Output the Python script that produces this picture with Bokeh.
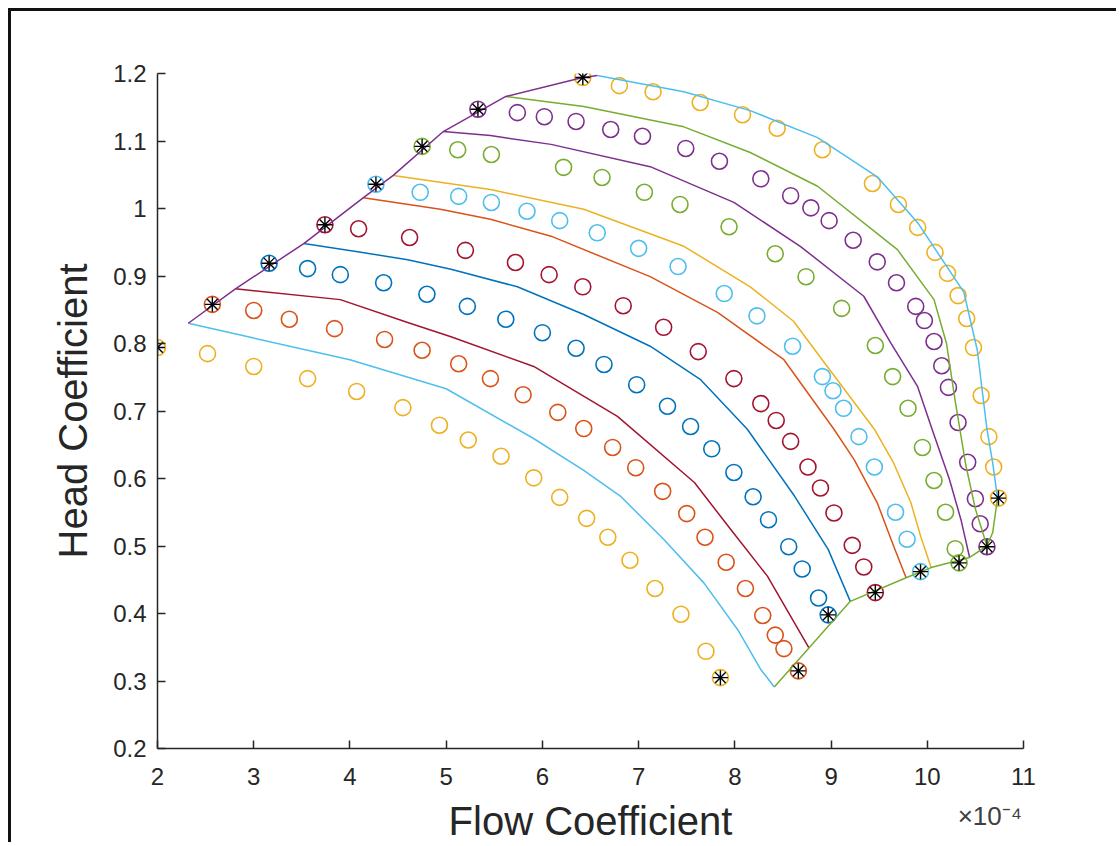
from bokeh.plotting import figure
from bokeh.models import Range1d, FixedTicker, LinearAxis
from bokeh.embed import file_html
from bokeh.resources import INLINE

# ---------------- data (x in units of 1e-4) ----------------
# measured points (circles), bottom curve to top curve
m1_x = [2.00, 2.52, 3.00, 3.56, 4.07, 4.55, 4.93, 5.23, 5.57, 5.91, 6.18, 6.46, 6.68, 6.91, 7.17, 7.44, 7.70, 7.85]
m1_y = [0.794, 0.785, 0.766, 0.748, 0.729, 0.705, 0.679, 0.657, 0.633, 0.601, 0.572, 0.541, 0.513, 0.479, 0.437, 0.399, 0.344, 0.305]
m2_x = [2.57, 3.00, 3.37, 3.84, 4.36, 4.75, 5.13, 5.46, 5.80, 6.16, 6.43, 6.73, 6.97, 7.25, 7.50, 7.69, 7.91, 8.11, 8.29, 8.42, 8.51, 8.66]
m2_y = [0.858, 0.849, 0.836, 0.822, 0.806, 0.790, 0.770, 0.748, 0.724, 0.698, 0.674, 0.646, 0.616, 0.581, 0.548, 0.513, 0.476, 0.437, 0.397, 0.368, 0.348, 0.315]
m3_x = [3.16, 3.56, 3.90, 4.35, 4.80, 5.22, 5.62, 6.00, 6.35, 6.64, 6.98, 7.30, 7.54, 7.76, 7.99, 8.19, 8.35, 8.56, 8.70, 8.87, 8.97]
m3_y = [0.919, 0.911, 0.902, 0.890, 0.873, 0.855, 0.836, 0.816, 0.793, 0.769, 0.739, 0.707, 0.677, 0.644, 0.609, 0.573, 0.539, 0.499, 0.466, 0.423, 0.398]
m4_x = [3.74, 4.09, 4.62, 5.20, 5.72, 6.07, 6.42, 6.84, 7.26, 7.62, 7.99, 8.27, 8.43, 8.58, 8.76, 8.89, 9.03, 9.22, 9.34, 9.46]
m4_y = [0.976, 0.970, 0.957, 0.938, 0.920, 0.902, 0.884, 0.856, 0.824, 0.788, 0.748, 0.711, 0.686, 0.655, 0.617, 0.586, 0.549, 0.501, 0.469, 0.431]
m5_x = [4.27, 4.73, 5.13, 5.47, 5.84, 6.18, 6.57, 7.00, 7.41, 7.89, 8.23, 8.60, 8.91, 9.02, 9.13, 9.29, 9.45, 9.67, 9.79, 9.93]
m5_y = [1.036, 1.024, 1.018, 1.009, 0.996, 0.982, 0.964, 0.941, 0.914, 0.874, 0.841, 0.796, 0.751, 0.730, 0.704, 0.662, 0.617, 0.550, 0.510, 0.462]
m6_x = [4.75, 5.12, 5.47, 6.22, 6.62, 7.06, 7.43, 7.94, 8.42, 8.74, 9.11, 9.46, 9.64, 9.80, 9.95, 10.07, 10.19, 10.29, 10.33]
m6_y = [1.092, 1.087, 1.080, 1.061, 1.046, 1.024, 1.006, 0.973, 0.933, 0.899, 0.852, 0.797, 0.751, 0.704, 0.646, 0.597, 0.550, 0.496, 0.475]
m7_x = [5.33, 5.74, 6.02, 6.35, 6.71, 7.04, 7.49, 7.84, 8.27, 8.58, 8.79, 8.98, 9.23, 9.48, 9.68, 9.88, 9.97, 10.07, 10.15, 10.22, 10.32, 10.42, 10.50, 10.55, 10.62]
m7_y = [1.147, 1.142, 1.136, 1.129, 1.117, 1.107, 1.089, 1.070, 1.044, 1.019, 1.001, 0.982, 0.953, 0.921, 0.890, 0.855, 0.834, 0.803, 0.767, 0.735, 0.683, 0.624, 0.570, 0.533, 0.499]
m8_x = [6.42, 6.80, 7.15, 7.64, 8.08, 8.44, 8.91, 9.43, 9.70, 9.90, 10.08, 10.21, 10.32, 10.41, 10.48, 10.56, 10.64, 10.69, 10.74]
m8_y = [1.194, 1.182, 1.173, 1.157, 1.139, 1.119, 1.087, 1.037, 1.006, 0.972, 0.935, 0.904, 0.871, 0.837, 0.794, 0.723, 0.662, 0.617, 0.571]

# predicted curves (lines), bottom to top
p1_x = [2.32, 3.00, 4.00, 5.00, 5.90, 6.43, 6.81, 7.26, 7.68, 8.03, 8.27, 8.41]
p1_y = [0.830, 0.808, 0.776, 0.733, 0.660, 0.612, 0.574, 0.510, 0.445, 0.376, 0.317, 0.291]
p2_x = [2.81, 3.90, 4.60, 5.05, 5.91, 6.78, 7.58, 7.96, 8.34, 8.77]
p2_y = [0.881, 0.865, 0.831, 0.810, 0.766, 0.692, 0.594, 0.524, 0.455, 0.349]
p3_x = [3.52, 4.08, 4.60, 5.05, 5.74, 6.43, 7.12, 7.64, 8.13, 8.62, 8.97, 9.20]
p3_y = [0.948, 0.936, 0.924, 0.910, 0.884, 0.843, 0.796, 0.747, 0.673, 0.574, 0.495, 0.418]
p4_x = [4.14, 4.94, 5.46, 6.09, 7.12, 7.82, 8.51, 9.03, 9.24, 9.48, 9.65, 9.78]
p4_y = [1.016, 0.999, 0.984, 0.959, 0.899, 0.846, 0.776, 0.673, 0.628, 0.564, 0.500, 0.453]
p5_x = [4.45, 5.46, 6.43, 7.47, 8.16, 8.61, 8.96, 9.45, 9.65, 9.83, 9.93, 10.04]
p5_y = [1.049, 1.028, 0.999, 0.944, 0.884, 0.833, 0.766, 0.673, 0.623, 0.564, 0.515, 0.468]
p6_x = [4.97, 5.46, 6.09, 7.12, 7.99, 8.68, 9.34, 9.62, 9.90, 10.05, 10.23, 10.35, 10.44]
p6_y = [1.114, 1.108, 1.095, 1.062, 1.009, 0.944, 0.870, 0.801, 0.736, 0.673, 0.599, 0.539, 0.483]
p7_x = [5.62, 6.43, 7.47, 8.16, 8.86, 9.69, 10.07, 10.20, 10.29, 10.40, 10.50, 10.62]
p7_y = [1.166, 1.151, 1.121, 1.083, 1.033, 0.939, 0.865, 0.800, 0.715, 0.620, 0.555, 0.500]
p8_x = [6.57, 7.47, 8.16, 8.86, 9.48, 9.90, 10.38, 10.52, 10.62, 10.68, 10.73]
p8_y = [1.197, 1.173, 1.145, 1.105, 1.047, 0.979, 0.876, 0.790, 0.673, 0.623, 0.571]

# surge and choke limit lines
surge_x = [2.32, 2.81, 3.52, 4.14, 4.45, 4.97, 5.62, 6.42, 6.57]
surge_y = [0.830, 0.881, 0.948, 1.016, 1.049, 1.114, 1.166, 1.194, 1.197]
choke_x = [8.41, 8.77, 9.20, 9.78, 10.04, 10.44, 10.62, 10.68, 10.73]
choke_y = [0.291, 0.349, 0.418, 0.453, 0.468, 0.483, 0.500, 0.520, 0.571]

x_ticks = [2, 3, 4, 5, 6, 7, 8, 9, 10, 11]
x_tick_labels = ["2", "3", "4", "5", "6", "7", "8", "9", "10", "11"]
y_ticks = [0.2, 0.3, 0.4, 0.5, 0.6, 0.7, 0.8, 0.9, 1.0, 1.1, 1.2]
y_tick_labels = ["0.2", "0.3", "0.4", "0.5", "0.6", "0.7", "0.8", "0.9", "1", "1.1", "1.2"]
x_title = "Flow Coefficient"
y_title = "Head Coefficient"
x_exponent = "\u00d710\u207b\u2074"

# ---------------- styling ----------------
BLUE, ORANGE, YELLOW, PURPLE = "#0072BD", "#D95319", "#EDB120", "#7E2F8E"
GREEN, LBLUE, DRED = "#77AC30", "#4DBEEE", "#A2142F"
TXT = "#262626"
FONT = "Liberation Sans"

meas = [(m1_x, m1_y, YELLOW), (m2_x, m2_y, ORANGE), (m3_x, m3_y, BLUE), (m4_x, m4_y, DRED),
        (m5_x, m5_y, LBLUE), (m6_x, m6_y, GREEN), (m7_x, m7_y, PURPLE), (m8_x, m8_y, YELLOW)]
pred = [(p1_x, p1_y, LBLUE), (p2_x, p2_y, DRED), (p3_x, p3_y, BLUE), (p4_x, p4_y, ORANGE),
        (p5_x, p5_y, YELLOW), (p6_x, p6_y, PURPLE), (p7_x, p7_y, GREEN), (p8_x, p8_y, LBLUE)]

p = figure(width=1108, height=834, output_backend="svg", toolbar_location=None,
           x_range=Range1d(2, 11), y_range=Range1d(0.2, 1.2),
           min_border_left=146, min_border_right=96, min_border_top=62, min_border_bottom=96)
p.styles = {"margin-left": "8px", "margin-top": "8px",
            "border-left": "3px solid #111111", "border-top": "3px solid #111111"}
p.background_fill_color = "white"
p.border_fill_color = "white"
p.outline_line_color = None
p.grid.visible = False

for ax, ticks, labels in ((p.xaxis[0], x_ticks, x_tick_labels), (p.yaxis[0], y_ticks, y_tick_labels)):
    ax.ticker = FixedTicker(ticks=ticks)
    ax.major_label_overrides = {t: l for t, l in zip(ticks, labels)}
    ax.minor_tick_line_color = None
    ax.major_tick_in = 8
    ax.major_tick_out = 0
    ax.axis_line_color = TXT
    ax.axis_line_width = 1.5
    ax.major_tick_line_color = TXT
    ax.major_tick_line_width = 1.5
    ax.major_label_text_font = FONT
    ax.major_label_text_font_size = "24px"
    ax.major_label_text_color = TXT
p.xaxis.major_label_standoff = 19
p.yaxis.major_label_standoff = 11

# y title on the y axis
p.yaxis.axis_label = y_title
p.yaxis.axis_label_text_font = FONT
p.yaxis.axis_label_text_font_size = "40px"
p.yaxis.axis_label_text_font_style = "normal"
p.yaxis.axis_label_text_color = TXT
p.yaxis.axis_label_standoff = 15

# second (bare) axis below: carries the x title and the x10^-4 exponent
EXP_POS = 10.65
ax2 = LinearAxis(ticker=FixedTicker(ticks=[EXP_POS]), major_label_overrides={EXP_POS: x_exponent},
                 axis_line_color=None, major_tick_line_color=None, minor_tick_line_color=None,
                 major_tick_in=0, major_tick_out=0, major_label_standoff=13,
                 major_label_text_font=FONT, major_label_text_font_size="26px",
                 major_label_text_color="#404040",
                 axis_label=x_title, axis_label_standoff=-35, axis_label_text_font=FONT,
                 axis_label_text_font_size="40px", axis_label_text_font_style="normal",
                 axis_label_text_color=TXT)
p.add_layout(ax2, "below")

for xs, ys, c in meas:
    p.scatter(xs, ys, marker="circle", size=16, fill_color=None, line_color=c, line_width=1.6)
for xs, ys, c in pred:
    p.line(xs, ys, line_color=c, line_width=1.5)
p.line(surge_x, surge_y, line_color=PURPLE, line_width=1.5)
p.line(choke_x, choke_y, line_color=GREEN, line_width=1.5)

ends_x = [s[0][0] for s in meas] + [s[0][-1] for s in meas]
ends_y = [s[1][0] for s in meas] + [s[1][-1] for s in meas]
p.scatter(ends_x, ends_y, marker="asterisk", size=15, line_color="black", line_width=1.4)

open("out.html", "w").write(file_html(p, INLINE))
